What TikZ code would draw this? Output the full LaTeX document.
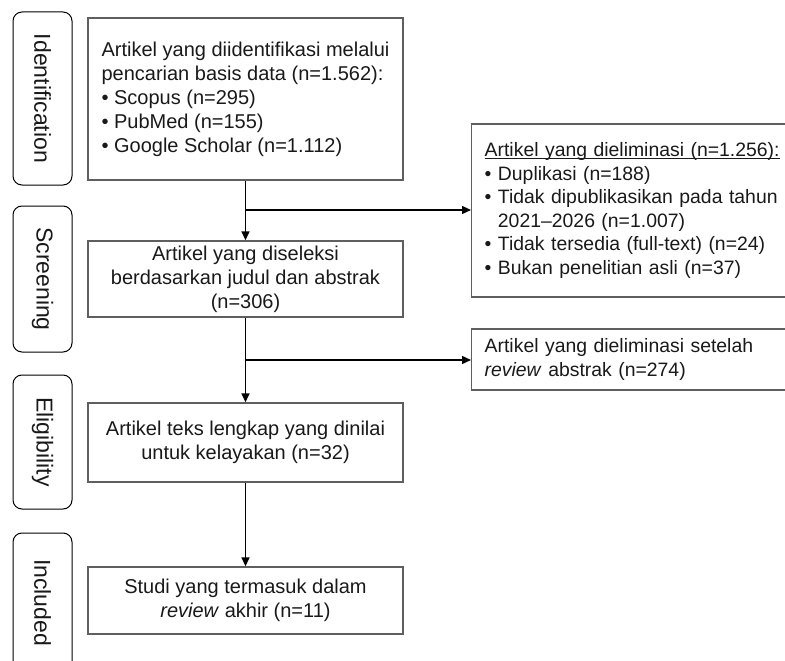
\documentclass[tikz,border=0pt]{standalone}
\usepackage{fontspec}
\setmainfont{Liberation Sans}
\usetikzlibrary{arrows.meta}
\definecolor{boxgray}{RGB}{95,95,95}
\definecolor{txt}{RGB}{25,25,25}
\newlength\myulw
\newcommand\myul[1]{\settowidth\myulw{#1}\makebox[0pt][l]{\rule[-2.2pt]{\myulw}{0.9pt}}#1}
\begin{document}
\begin{tikzpicture}[x=1pt,y=-1pt,
  box/.style={draw=boxgray, line width=1.4pt, inner sep=0pt, text=txt,
    font=\fontsize{20}{24}\selectfont, align=center},
  stage/.style={draw=black, line width=1pt, rounded corners=9pt, rotate=-90,
    minimum height=59pt, inner sep=0pt, text=txt, font=\fontsize{23}{27}\selectfont},
  arr/.style={line width=1.5pt, -{Triangle[length=9pt,width=8pt]}},
]
\useasboundingbox (0,0) rectangle (785,661);

% stage labels
\node[stage, minimum width=173pt] (sid) at (42.5,98.5) {Identification};
\node[stage, minimum width=146pt] (ssc) at (42.5,279) {Screening};
\node[stage, minimum width=134pt] (sel) at (42.5,442) {Eligibility};
\node[stage, minimum width=139pt] (sin) at (42.5,602.5) {Included};

% main boxes
\node[box, minimum width=315pt, minimum height=162pt, align=left] (ident) at (245.5,99)
  {Artikel yang diidentifikasi melalui\\
   pencarian basis data (n=1.562):\\
   • Scopus (n=295)\\
   • PubMed (n=155)\\
   • Google Scholar (n=1.112)};
\node[box, minimum width=315pt, minimum height=76pt] (screen) at (245.5,279)
  {Artikel yang diseleksi\\ berdasarkan judul dan abstrak\\ (n=306)};
\node[box, minimum width=315pt, minimum height=79pt] (elig) at (245.5,442.5)
  {Artikel teks lengkap yang dinilai\\ untuk kelayakan (n=32)};
\node[box, minimum width=315pt, minimum height=67pt] (incl) at (245.5,600.5)
  {Studi yang termasuk dalam\\ \textit{review} akhir (n=11)};

% exclusion boxes
\node[box, anchor=west, text width=310pt, inner xsep=13pt, align=left,
  font=\fontsize{19.4}{23.6}\selectfont,
  minimum height=173pt] (excl1) at (471,210.5)
  {\myul{Artikel yang dieliminasi (n=1.256):}\\
   • Duplikasi (n=188)\\
   • Tidak dipublikasikan pada tahun\\
   \phantom{• }2021–2026 (n=1.007)\\
   • Tidak tersedia (full-text) (n=24)\\
   • Bukan penelitian asli (n=37)};
\node[box, anchor=west, text width=310pt, inner xsep=13pt, align=left,
  font=\fontsize{19.4}{23.6}\selectfont,
  minimum height=61pt] (excl2) at (471,359.5)
  {Artikel yang dieliminasi setelah\\ \textit{review} abstrak (n=274)};

% connectors
\coordinate (b1) at (245.5,210);
\coordinate (b2) at (245.5,360);
\draw[arr] (ident.south) -- (screen.north);
\draw[arr] (b1) -- (b1 -| excl1.west);
\draw[arr] (screen.south) -- (elig.north);
\draw[arr] (b2) -- (b2 -| excl2.west);
\draw[arr] (elig.south) -- (incl.north);
\end{tikzpicture}
\end{document}
